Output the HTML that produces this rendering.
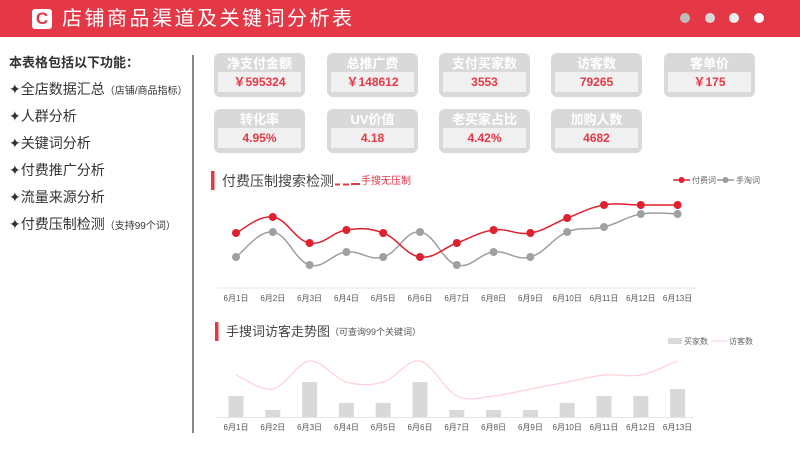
<!DOCTYPE html>
<html><head><meta charset="utf-8"><style>
body{margin:0;width:800px;height:450px;background:#fff;font-family:"Liberation Sans","Noto Sans CJK SC",sans-serif;position:relative;overflow:hidden}
.hdr{position:absolute;left:0;top:0;width:800px;height:37px;background:#e43847}
.logo{position:absolute;left:32px;top:9px;width:20px;height:20px;border-radius:3px;background:#fff;color:#e43847;font-weight:bold;font-size:17px;line-height:20px;text-align:center}
.title{position:absolute;left:62px;top:5px;color:#fff;font-size:20px;letter-spacing:2.5px;line-height:28px}
.dot{position:absolute;top:13px;width:10px;height:10px;border-radius:50%}
.side{position:absolute;left:9px;color:#333;font-size:14px}
.small{font-size:10px}
.card{position:absolute;width:91px;height:44px;background:#d9d9d9;border-radius:6px}
.card .l{color:#fff;font-weight:bold;font-size:13px;text-align:center;margin-top:3px;line-height:16px}
.card .v{position:absolute;left:4px;top:19px;width:83px;height:20px;background:#f0f0f0;color:#e43847;font-size:12px;font-weight:bold;text-align:center;line-height:20px}
</style></head><body>
<div class="hdr"></div>
<div class="logo">C</div>
<div class="title">店铺商品渠道及关键词分析表</div>
<div class="dot" style="left:680px;background:#bcbcbc"></div>
<div class="dot" style="left:705px;background:#d8d8d8"></div>
<div class="dot" style="left:729px;background:#eee"></div>
<div class="dot" style="left:754px;background:#fff"></div>

<div class="side" style="top:52px;font-weight:bold;font-size:13px">本表格包括以下功能：</div>
<div class="side" style="top:79px">✦全店数据汇总<span class="small">（店铺/商品指标）</span></div>
<div class="side" style="top:106px">✦人群分析</div>
<div class="side" style="top:133px">✦关键词分析</div>
<div class="side" style="top:160px">✦付费推广分析</div>
<div class="side" style="top:187px">✦流量来源分析</div>
<div class="side" style="top:214px">✦付费压制检测<span class="small">（支持99个词）</span></div>
<div style="position:absolute;left:192px;top:55px;width:1.5px;height:378px;background:#888"></div>

<div class="card" style="left:214px;top:53px"><div class="l">净支付金额</div><div class="v">￥595324</div></div>
<div class="card" style="left:327px;top:53px"><div class="l">总推广费</div><div class="v">￥148612</div></div>
<div class="card" style="left:439px;top:53px"><div class="l">支付买家数</div><div class="v">3553</div></div>
<div class="card" style="left:551px;top:53px"><div class="l">访客数</div><div class="v">79265</div></div>
<div class="card" style="left:664px;top:53px"><div class="l">客单价</div><div class="v">￥175</div></div>
<div class="card" style="left:214px;top:109px"><div class="l">转化率</div><div class="v">4.95%</div></div>
<div class="card" style="left:327px;top:109px"><div class="l">UV价值</div><div class="v">4.18</div></div>
<div class="card" style="left:439px;top:109px"><div class="l">老买家占比</div><div class="v">4.42%</div></div>
<div class="card" style="left:551px;top:109px"><div class="l">加购人数</div><div class="v">4682</div></div>

<svg id="c" width="800" height="450" style="position:absolute;left:0;top:0"></svg>
<script>
const days=["6月1日","6月2日","6月3日","6月4日","6月5日","6月6日","6月7日","6月8日","6月9日","6月10日","6月11日","6月12日","6月13日"];
const paidWords=[55,71,45,58,55,31,45,58,55,70,83,83,83];
const searchWords=[31,56,23,36,31,56,23,36,31,56,61,74,74];
const buyers=[3,1,5,2,2,5,1,1,1,2,3,3,4];
const visitors=[6,4,8,5,5,8,3,3,4,5,6,6,8];
const svg=document.getElementById('c');const NS='http://www.w3.org/2000/svg';
function mk(t,a,txt){const e=document.createElementNS(NS,t);for(const k in a)e.setAttribute(k,a[k]);if(txt!=null)e.textContent=txt;svg.appendChild(e);return e;}
function xAt(i){return 236+i*36.8;}
function y1(v){return 288-v;}
function y2(v){return 417-v*7;}
function smooth(pts,t){let d='M'+pts[0][0]+','+pts[0][1];for(let i=0;i<pts.length-1;i++){const p0=pts[i-1]||pts[i],p1=pts[i],p2=pts[i+1],p3=pts[i+2]||p2;d+=' C'+(p1[0]+(p2[0]-p0[0])*t)+','+(p1[1]+(p2[1]-p0[1])*t)+' '+(p2[0]-(p3[0]-p1[0])*t)+','+(p2[1]-(p3[1]-p1[1])*t)+' '+p2[0]+','+p2[1];}return d;}
let e;
e=mk('rect',{x:211,y:171,width:3.5,height:19,fill:'#e43847'});
e=mk('text',{x:222,y:186,'font-size':14,fill:'#444'},'付费压制搜索检测');
e=mk('path',{d:'M335,184.5h5M343,184.5h6M351,184h9',stroke:'#e43847','stroke-width':2});
e=mk('text',{x:361,y:184,'font-size':10,fill:'#e43847'},'手搜无压制');
e=mk('line',{x1:673,y1:180,x2:690,y2:180,stroke:'#e0202e','stroke-width':1.5});
e=mk('circle',{cx:681.5,cy:180,r:3,fill:'#e0202e'});
e=mk('text',{x:692,y:183,'font-size':8,fill:'#666'},'付费词');
e=mk('line',{x1:717,y1:180,x2:734,y2:180,stroke:'#999','stroke-width':1.5});
e=mk('circle',{cx:725.5,cy:180,r:3,fill:'#999'});
e=mk('text',{x:736,y:183,'font-size':8,fill:'#666'},'手淘词');
e=mk('line',{x1:217,y1:288,x2:697,y2:288,stroke:'#e6e6e6'});
days.forEach((d,i)=>{e=mk('text',{x:xAt(i),y:301,'font-size':8,fill:'#555','text-anchor':'middle'},d);});
e=mk('path',{d:smooth(searchWords.map((v,i)=>[xAt(i),y1(v)]),0.2),fill:'none',stroke:'#9e9e9e','stroke-width':1.5});
searchWords.forEach((v,i)=>{e=mk('circle',{cx:xAt(i),cy:y1(v),r:4,fill:'#a0a0a0'});});
e=mk('path',{d:smooth(paidWords.map((v,i)=>[xAt(i),y1(v)]),0.2),fill:'none',stroke:'#e0202e','stroke-width':1.5});
paidWords.forEach((v,i)=>{e=mk('circle',{cx:xAt(i),cy:y1(v),r:4,fill:'#e0202e'});});
e=mk('rect',{x:215,y:322,width:3.5,height:19,fill:'#e43847'});
e=mk('text',{x:226,y:336,'font-size':13,fill:'#444'},'手搜词访客走势图');
e=mk('text',{x:330,y:335,'font-size':9,fill:'#555'},'（可查询99个关键词）');
e=mk('rect',{x:668,y:338,width:14,height:6,fill:'#d9d9d9'});
e=mk('text',{x:684,y:344,'font-size':8,fill:'#666'},'买家数');
e=mk('line',{x1:711,y1:341,x2:727,y2:341,stroke:'#fcc','stroke-width':1});
e=mk('text',{x:729,y:344,'font-size':8,fill:'#666'},'访客数');
e=mk('line',{x1:217,y1:417.5,x2:694,y2:417.5,stroke:'#e6e6e6'});
buyers.forEach((v,i)=>{e=mk('rect',{x:xAt(i)-7.5,y:y2(v),width:15,height:417-y2(v),fill:'#d9d9d9'});});
e=mk('path',{d:smooth(visitors.map((v,i)=>[xAt(i),y2(v)]),0.17),fill:'none',stroke:'#ffd0d4','stroke-width':1.2});
days.forEach((d,i)=>{e=mk('text',{x:xAt(i),y:430,'font-size':8,fill:'#555','text-anchor':'middle'},d);});
</script>
</body></html>
